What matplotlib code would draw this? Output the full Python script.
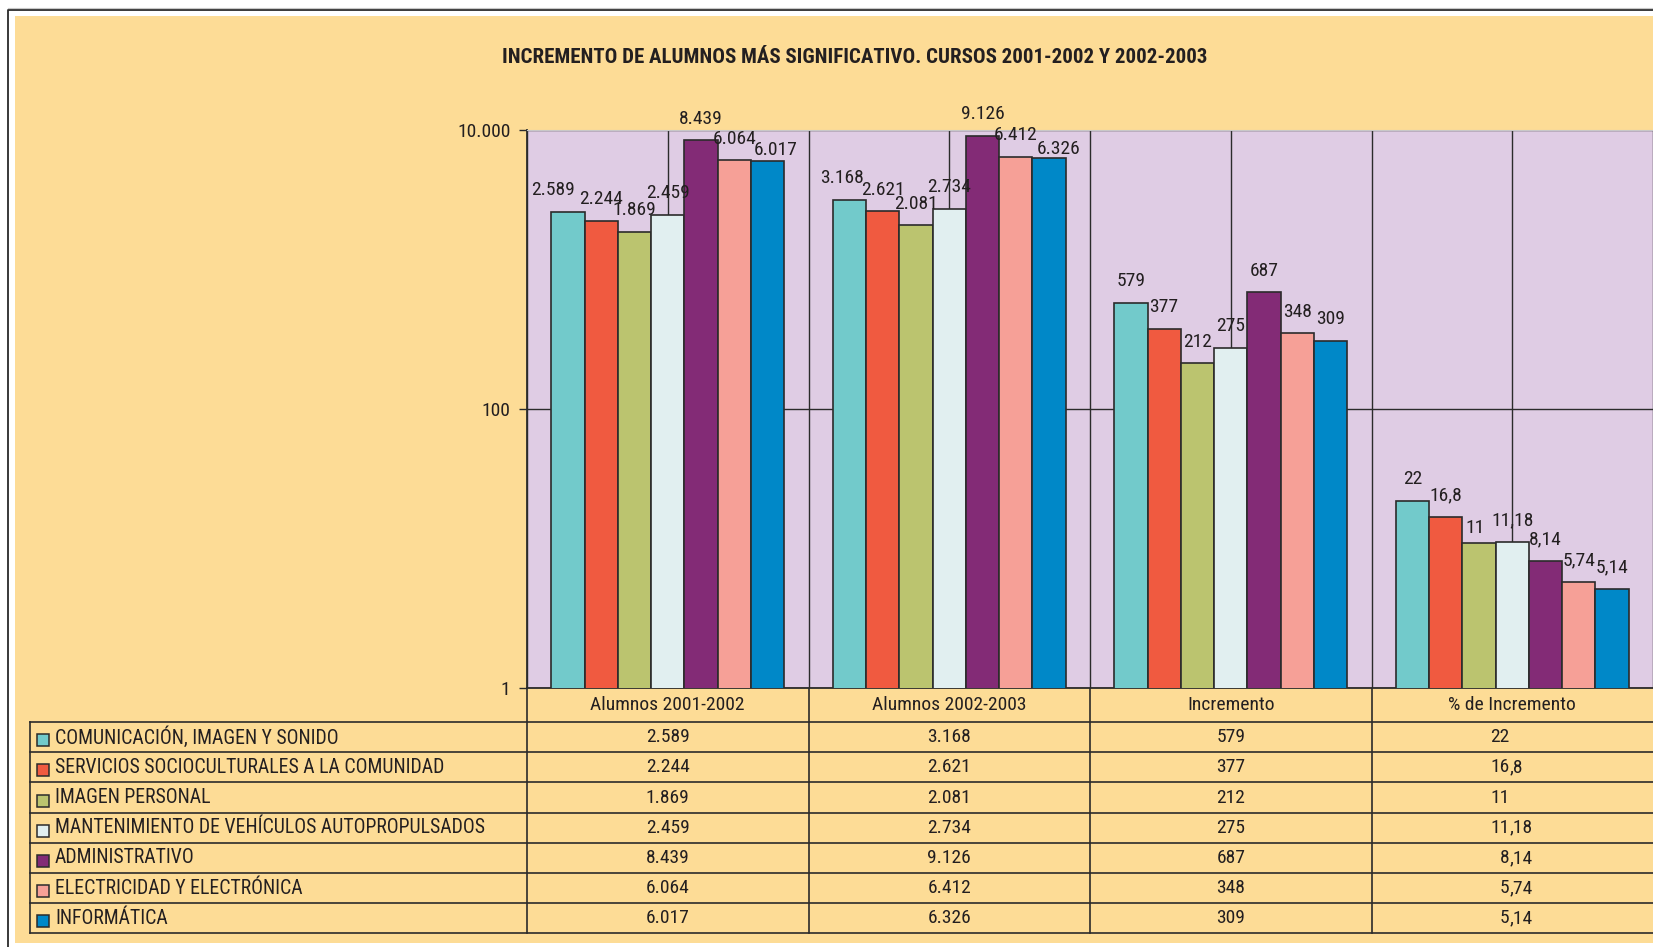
import matplotlib
matplotlib.use("Agg")
import matplotlib.pyplot as plt
from matplotlib.patches import Rectangle
import numpy as np

plt.rcParams['font.family'] = ['Roboto Condensed', 'DejaVu Sans']

# datos
familias = ["COMUNICACIÓN, IMAGEN Y SONIDO",
            "SERVICIOS SOCIOCULTURALES A LA COMUNIDAD",
            "IMAGEN PERSONAL",
            "MANTENIMIENTO DE VEHÍCULOS AUTOPROPULSADOS",
            "ADMINISTRATIVO",
            "ELECTRICIDAD Y ELECTRÓNICA",
            "INFORMÁTICA"]
columnas = ["Alumnos 2001-2002", "Alumnos 2002-2003", "Incremento", "% de Incremento"]
alumnos_0102 = [2589, 2244, 1869, 2459, 8439, 6064, 6017]
alumnos_0203 = [3168, 2621, 2081, 2734, 9126, 6412, 6326]
incremento = [579, 377, 212, 275, 687, 348, 309]
pct_incremento = [22, 16.8, 11, 11.18, 8.14, 5.74, 5.14]
colores = ["#72CACB", "#F05A40", "#BBC46F", "#E1EFF0", "#832B76", "#F6A097", "#0088C8"]

series = [alumnos_0102, alumnos_0203, incremento, pct_incremento]

# desplazamiento (puntos) de algunas etiquetas para que no se pisen
ajustes = {(0, 0): (-11, 0), (0, 1): (-5, 0), (6, 0): (6, -8), (6, 1): (7, -9), (2, 3): (-3, -5)}


def fmt(v, col):
    if col == 3:
        return f"{v:g}".replace(".", ",")
    return f"{v:,}".replace(",", ".")


W, H = 1653, 947
fig = plt.figure(figsize=(W / 100, H / 100), dpi=100)
fig.patch.set_facecolor("white")

# fondo y marco, en pixeles
bg = fig.add_axes([0, 0, 1, 1], zorder=0)
bg.set_xlim(0, W)
bg.set_ylim(H, 0)
bg.axis("off")
bg.add_patch(Rectangle((15, 16), W, 927, facecolor="#FDDC96", edgecolor="none"))
bg.plot([8, 8, W], [H, 10, 10], color="#2a2a2a", lw=1.3)
bg.plot([8, W], [8, 8], color="#c8c8c8", lw=0.8)

txt = "#231F20"
bg.text(855, 57, "INCREMENTO DE ALUMNOS MÁS SIGNIFICATIVO. CURSOS 2001-2002 Y 2002-2003",
        ha="center", va="center", fontsize=15, fontweight="bold", color=txt)

# area del grafico
x0, x1, y_top, y_bot = 527, W, 130, 688
ax = fig.add_axes([x0 / W, 1 - y_bot / H, (x1 - x0) / W, (y_bot - y_top) / H], zorder=2)
ax.set_facecolor("#DFCCE4")

n = len(familias)
ancho = 0.828 / n
for j in range(n):
    xs = np.arange(4) + 0.5 - 0.414 + ancho * (j + 0.5)
    vals = [s[j] for s in series]
    ax.bar(xs, vals, width=ancho, color=colores[j], edgecolor="#2b2b2b", lw=1.2, zorder=3)
    for c, (x, v) in enumerate(zip(xs, vals)):
        dx, dy = ajustes.get((j, c), (0, 0))
        ax.annotate(fmt(v, c), (x, v), xytext=(dx, 9 + dy), textcoords="offset points",
                    ha="center", va="bottom", fontsize=14, color=txt, zorder=4)

ax.set_yscale("log")
ax.set_ylim(1, 10000)
ax.set_xlim(0, 4)
ax.set_yticks([1, 100, 10000])
ax.set_yticklabels(["1", "100", "10.000"], fontsize=14, color=txt)
ax.yaxis.set_minor_locator(matplotlib.ticker.NullLocator())
ax.tick_params(axis="y", length=6, width=1, color="#2b2b2b", pad=6)
ax.set_xticks(np.arange(0, 4.01, 0.5))
ax.set_xticklabels([])
ax.tick_params(axis="x", length=0)
ax.set_axisbelow(True)
ax.grid(True, color="#2b2b2b", lw=1)
for s in ["left", "bottom"]:
    ax.spines[s].set_color("#2b2b2b")
    ax.spines[s].set_linewidth(1.3)
ax.spines["top"].set_color("#c8c8c8")
ax.spines["right"].set_visible(False)

# tabla de datos
cat_w = (x1 - x0) / 4
header_bot = 722
row_h = 30.2
rows_y = [header_bot + k * row_h for k in range(n + 1)]
lc = "#2b2b2b"
for y in rows_y:
    bg.plot([29.5, W], [y, y], color=lc, lw=1.2, zorder=3)
bg.plot([29.5, 29.5], [header_bot, rows_y[-1]], color=lc, lw=1.2, zorder=3)
for c in range(4):
    bx = x0 + c * cat_w
    bg.plot([bx, bx], [y_bot, rows_y[-1]], color=lc, lw=1.2, zorder=3)
    bg.text(bx + cat_w / 2, (y_bot + header_bot) / 2, columnas[c],
            ha="center", va="center", fontsize=14, color=txt)

for j in range(n):
    yc = rows_y[j] + row_h / 2
    bg.add_patch(Rectangle((36.5, yc - 3), 12, 12, facecolor=colores[j],
                           edgecolor="#2b2b2b", lw=1.1, zorder=3))
    bg.text(55, yc, familias[j], ha="left", va="center", fontsize=14.2, color=txt)
    for c in range(4):
        cx = x0 + c * cat_w + cat_w / 2
        s = fmt(series[c][j], c)
        if c == 3:
            ent, _, dec = s.partition(",")
            bg.text(cx - 3, yc, ent, ha="right", va="center", fontsize=14, color=txt)
            if dec:
                bg.text(cx - 3, yc, "," + dec, ha="left", va="center", fontsize=14, color=txt)
        else:
            bg.text(cx, yc, s, ha="center", va="center", fontsize=14, color=txt)

fig.savefig("out.png", dpi=100)
